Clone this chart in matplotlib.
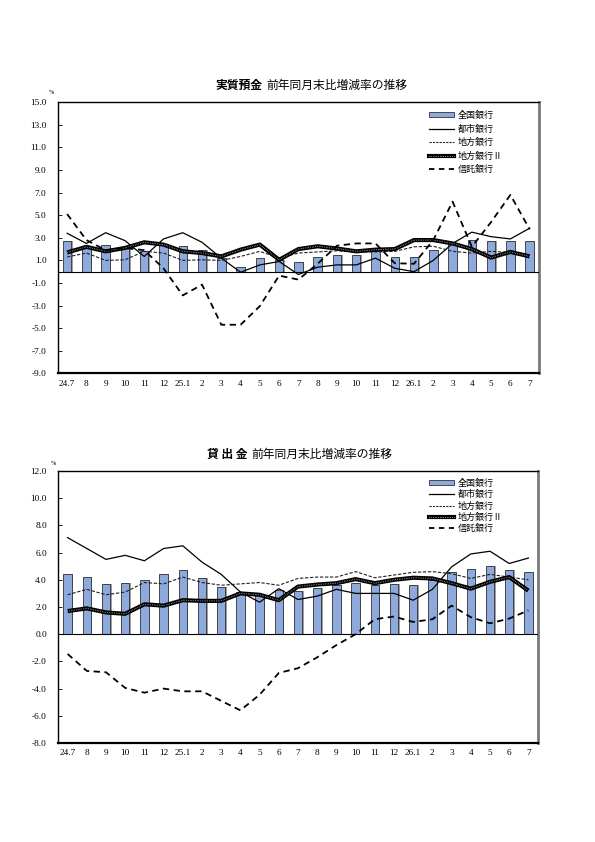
import numpy as np
import matplotlib
matplotlib.use("Agg")
import matplotlib.pyplot as plt
from matplotlib.lines import Line2D
from matplotlib.patches import Patch
from matplotlib.legend_handler import HandlerTuple

# x axis months
months = ["24.7", "8", "9", "10", "11", "12", "25.1", "2", "3", "4", "5", "6",
          "7", "8", "9", "10", "11", "12", "26.1", "2", "3", "4", "5", "6", "7"]

series_names = ["全国銀行", "都市銀行", "地方銀行", "地方銀行Ⅱ", "信託銀行"]

# 実質預金 (deposits), % change y/y
dep_zenkoku = [2.7, 2.3, 2.35, 2.2, 1.85, 2.4, 2.3, 1.9, 1.25, 0.45, 1.2, 1.05, 0.9,
               1.3, 1.5, 1.5, 1.8, 1.3, 1.3, 1.9, 2.5, 2.8, 2.7, 2.7, 2.75]
dep_toshi = [3.4, 2.5, 3.45, 2.75, 1.35, 2.9, 3.45, 2.6, 1.2, -0.05, 0.6, 0.9, -0.25,
             0.4, 0.6, 0.6, 1.2, 0.3, 0.0, 1.0, 2.5, 3.5, 3.1, 2.9, 3.85]
dep_chiho = [1.3, 1.65, 1.0, 1.05, 1.8, 1.65, 1.0, 1.05, 1.0, 1.35, 1.8, 1.2, 1.65,
             1.75, 1.85, 1.75, 1.75, 1.8, 2.2, 2.25, 1.8, 1.65, 1.8, 1.7, 1.5]
dep_chiho2 = [1.7, 2.2, 1.8, 2.1, 2.6, 2.4, 1.8, 1.65, 1.35, 1.95, 2.4, 1.05, 2.0,
              2.25, 2.05, 1.8, 1.95, 2.0, 2.8, 2.8, 2.5, 2.0, 1.25, 1.75, 1.35]
dep_shintaku = [5.1, 2.8, 1.9, 2.1, 1.9, 0.3, -2.1, -1.15, -4.7, -4.7, -3.05, -0.35, -0.7,
                0.7, 2.3, 2.5, 2.5, 0.75, 0.7, 2.8, 6.2, 2.2, 4.4, 6.8, 3.75]

# 貸出金 (loans), % change y/y
loan_zenkoku = [4.4, 4.2, 3.7, 3.8, 4.0, 4.4, 4.7, 4.1, 3.5, 3.1, 2.9, 3.25, 3.2,
                3.4, 3.6, 3.8, 3.6, 3.7, 3.6, 4.0, 4.6, 4.8, 5.0, 4.7, 4.6]
loan_toshi = [7.1, 6.3, 5.5, 5.8, 5.4, 6.3, 6.5, 5.3, 4.4, 3.1, 2.35, 3.35, 2.55,
              2.8, 3.3, 3.0, 3.0, 3.0, 2.5, 3.3, 4.95, 5.9, 6.1, 5.2, 5.6]
loan_chiho = [2.9, 3.3, 2.9, 3.1, 3.8, 3.7, 4.2, 3.8, 3.6, 3.7, 3.8, 3.6, 4.1,
              4.2, 4.2, 4.6, 4.15, 4.35, 4.55, 4.6, 4.45, 4.1, 4.4, 4.2, 4.0]
loan_chiho2 = [1.7, 1.9, 1.6, 1.5, 2.2, 2.1, 2.5, 2.45, 2.45, 3.0, 2.9, 2.5, 3.5,
               3.65, 3.75, 4.05, 3.75, 4.0, 4.15, 4.1, 3.75, 3.35, 3.85, 4.2, 3.2]
loan_shintaku = [-1.45, -2.7, -2.8, -3.95, -4.3, -4.0, -4.2, -4.2, -4.9, -5.6, -4.45, -2.85, -2.5,
                 -1.7, -0.8, 0.0, 1.1, 1.3, 0.9, 1.1, 2.1, 1.25, 0.8, 1.15, 1.75]

dep_ticks = [15, 13, 11, 9, 7, 5, 3, 1, -1, -3, -5, -7, -9]
loan_ticks = [12, 10, 8, 6, 4, 2, 0, -2, -4, -6, -8]

W, H = 595, 842
fig = plt.figure(figsize=(W / 100, H / 100), dpi=100)

JP = ["Noto Sans CJK JP", "DejaVu Sans"]
SERIF = "Liberation Serif"
BAR_COLOR = "#8eaadc"
DOTS = (0, (0.5, 1.3))  # white speckle on the 地方銀行Ⅱ line


def px(x, y):
    # pixel position in the page -> figure fraction
    return x / W, 1 - y / H


def draw_panel(rect, zen, toshi, chiho, chiho2, shin, ticks, legend_anchor, lspacing):
    ax = fig.add_axes(rect)
    x = np.arange(len(months))
    # bar shadow then bar
    ax.bar(x + 0.07, zen, width=0.44, color="#a0a0a0", zorder=1)
    ax.bar(x, zen, width=0.44, color=BAR_COLOR, edgecolor="#303030", linewidth=0.6, zorder=2)
    ax.axhline(0, color="black", linewidth=0.8, zorder=3)
    ax.plot(x, toshi, color="black", linewidth=0.9, zorder=4)
    ax.plot(x, chiho, color="#202020", linewidth=0.8, dashes=(3, 1.5), zorder=4)
    ax.plot(x, chiho2, color="black", linewidth=3.0, zorder=5, solid_capstyle="butt")
    ax.plot(x, chiho2, color="white", linewidth=0.7, linestyle=DOTS, zorder=6)
    ax.plot(x, shin, color="black", linewidth=1.3, dashes=(3.5, 2.5), zorder=7)

    ax.set_xlim(-0.5, len(months) - 0.5)
    ax.set_ylim(min(ticks), max(ticks))
    ax.set_yticks(ticks)
    ax.set_yticklabels(["{:.1f}".format(t) for t in ticks], fontsize=6.7, family=SERIF)
    ax.set_xticks(x)
    ax.set_xticklabels(months, fontsize=6.7, family=SERIF)
    ax.tick_params(axis="y", direction="in", length=3, width=0.6, pad=8)
    ax.tick_params(axis="x", length=0, pad=4.5)

    ax.spines["left"].set_linewidth(1.0)
    ax.spines["top"].set_linewidth(1.0)
    ax.spines["bottom"].set_linewidth(1.6)
    ax.spines["right"].set_linewidth(2.0)
    ax.spines["right"].set_color("#7a7a7a")

    handles = [
        Patch(facecolor=BAR_COLOR, edgecolor="#303030", linewidth=0.6),
        Line2D([], [], color="black", linewidth=0.9),
        Line2D([], [], color="#202020", linewidth=0.8, dashes=(2, 1)),
        (Line2D([], [], color="black", linewidth=3.0),
         Line2D([], [], color="white", linewidth=0.7, linestyle=DOTS)),
        Line2D([], [], color="black", linewidth=1.3, dashes=(3, 2.5)),
    ]
    ax.legend(handles, series_names, loc="upper left",
              bbox_to_anchor=legend_anchor, bbox_transform=fig.transFigure,
              frameon=False, prop={"family": JP, "size": 6.5},
              handlelength=2.8, handleheight=0.5, handletextpad=0.4,
              labelspacing=lspacing, borderpad=0, borderaxespad=0,
              handler_map={tuple: HandlerTuple(ndivide=1, pad=0)})
    return ax


# top panel: deposits
l, b = px(57.5, 373.3)
_, t = px(0, 102.3)
draw_panel([l, b, (539.3 - 57.5) / W, t - b],
           dep_zenkoku, dep_toshi, dep_chiho, dep_chiho2, dep_shintaku,
           dep_ticks, px(429, 111), 0.5)

# bottom panel: loans
l2, b2 = px(58, 743)
_, t2 = px(0, 471)
draw_panel([l2, b2, (538 - 58) / W, t2 - b2],
           loan_zenkoku, loan_toshi, loan_chiho, loan_chiho2, loan_shintaku,
           loan_ticks, px(429, 479), 0.25)

# titles (bold part + normal part)
fig.text(*px(262, 85), "実質預金", family=JP, fontsize=8.5, fontweight="bold", ha="right", va="center")
fig.text(*px(266, 85), "前年同月末比増減率の推移", family=JP, fontsize=8.5, ha="left", va="center")
fig.text(*px(247, 454), "貸 出 金", family=JP, fontsize=8.5, fontweight="bold", ha="right", va="center")
fig.text(*px(251, 454), "前年同月末比増減率の推移", family=JP, fontsize=8.5, ha="left", va="center")

fig.text(*px(49, 93), "%", family=SERIF, fontsize=4.5, ha="left", va="center")
fig.text(*px(51, 463), "%", family=SERIF, fontsize=4.5, ha="left", va="center")

fig.savefig("out.png", dpi=100)
